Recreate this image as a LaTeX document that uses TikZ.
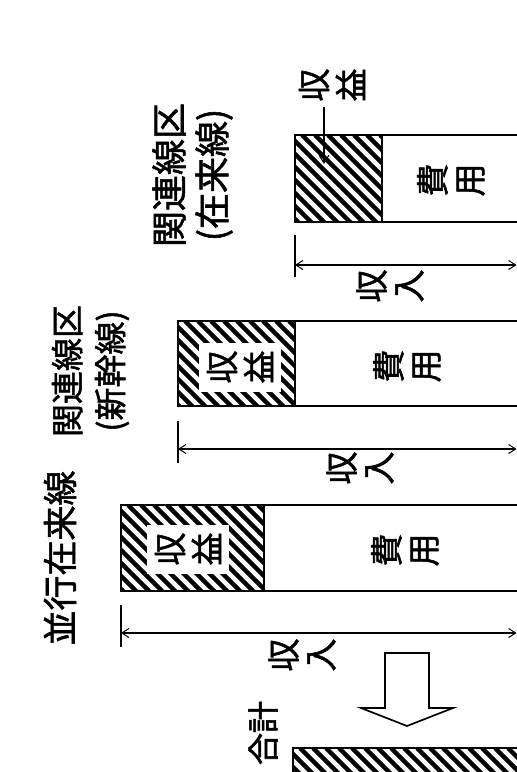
\documentclass[tikz,border=0pt]{standalone}
\usepackage{fontspec}
\newfontfamily\cjk[FakeBold=1.6]{Noto Sans CJK JP}
\usetikzlibrary{arrows.meta}
\newcommand\hatchrect[4]{%
  \begin{scope}
    \clip (#1,#2) rectangle (#3,#4);
    \foreach \s in {0,13,...,420} \draw[hatchline] ({#1-110+\s},#2) -- ++(140,140);
  \end{scope}}
\begin{document}
\begin{tikzpicture}[x=1pt,y=-1pt,
  jp/.style={rotate=90, font=\cjk\fontsize{33}{37}\selectfont, align=center, inner sep=0pt},
  frame/.style={draw=black, line width=1.7pt},
  hatchline/.style={line width=4.3pt, line cap=butt},
  thinline/.style={line width=1.1pt},
  dim/.style={thinline, {Straight Barb[length=7pt,width=9pt,line width=1pt]}-{Straight Barb[length=7pt,width=9pt,line width=1pt]}},
  leader/.style={thinline, -{Straight Barb[length=8pt,width=10pt,line width=1pt]}},
]
\useasboundingbox (0,0) rectangle (517,772);
\fill[white] (0,0) rectangle (517,772);
\begin{scope}
\clip (0,0) rectangle (517,772);
% hatched parts
\hatchrect{295}{135}{382}{222}
\hatchrect{178}{321}{295}{406}
\hatchrect{121}{505}{264}{591}
\hatchrect{293}{748}{540}{800}
% white label boxes inside hatched parts
\node[jp, fill=white, inner sep=8pt] (p2) at (240,367) {収\\益};
\node[jp, fill=white, inner sep=8pt] (p3) at (188,549) {収\\益};
% bar frames
\draw[frame] (295,135) rectangle (540,222); \draw[frame] (382,135) -- (382,222);
\draw[frame] (178,321) rectangle (540,406); \draw[frame] (295,321) -- (295,406);
\draw[frame] (121,505) rectangle (540,591); \draw[frame] (264,505) -- (264,591);
\draw[frame] (293,800) -- (293,748) -- (540,748);
% cost labels
\node[jp] (c1) at (451,180) {費\\用};
\node[jp] (c2) at (407,366) {費\\用};
\node[jp] (c3) at (405,550) {費\\用};
% profit label of bar 1 with leader
\node[jp] (p1) at (332,85) {収\\益};
\coordinate (l1a) at (324,107);
\coordinate (l1b) at (324,164);
\draw[leader] (l1a) -- (l1b);
% dimension lines
\coordinate (k1a) at (295,235); \coordinate (k1b) at (295,277);
\coordinate (d1a) at (295,265); \coordinate (d1b) at (516.5,265);
\coordinate (k2a) at (178,421); \coordinate (k2b) at (178,463);
\coordinate (d2a) at (178,449); \coordinate (d2b) at (516.5,449);
\coordinate (k3a) at (121,605); \coordinate (k3b) at (121,647);
\coordinate (d3a) at (121,633); \coordinate (d3b) at (516.5,633);
\draw[frame] (k1a) -- (k1b);
\draw[frame] (k2a) -- (k2b);
\draw[frame] (k3a) -- (k3b);
\draw[dim] (d1a) -- (d1b);
\draw[dim] (d2a) -- (d2b);
\draw[dim] (d3a) -- (d3b);
\node[jp] (r1) at (390,286) {収\\入};
\node[jp] (r2) at (360,468) {収\\入};
\node[jp] (r3) at (302,655) {収\\入};
% titles
\node[jp, font=\cjk\fontsize{36}{43}\selectfont] (t1) at (192.5,175) {関連線区\\(在来線)};
\node[jp, font=\cjk\fontsize{33}{43}\selectfont] (t2) at (90.5,371) {関連線区\\(新幹線)};
\node[jp, font=\cjk\fontsize{35}{43}\selectfont] (t3) at (60,558) {並行在来線};
% block arrow and total
\draw[frame, line join=miter] (385,653) -- (429,653) -- (429,708) -- (453,708) -- (407,726) -- (361,708) -- (385,708) -- cycle;
\node[jp, font=\cjk\fontsize{32}{38}\selectfont] (tot) at (263,733) {合計};
\end{scope}
\end{tikzpicture}
\end{document}
